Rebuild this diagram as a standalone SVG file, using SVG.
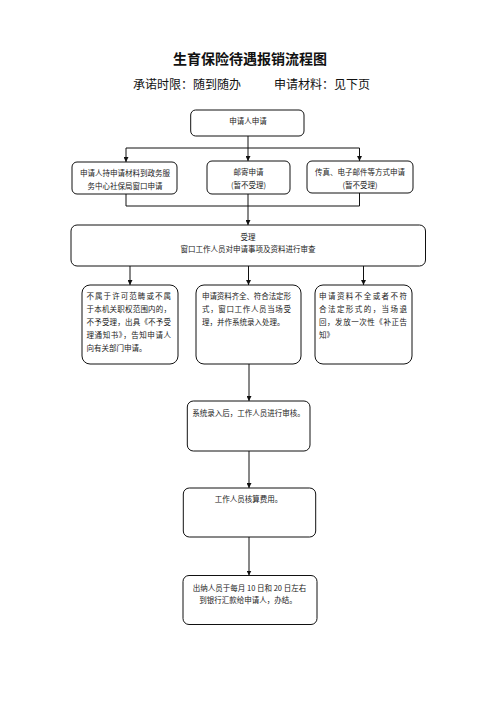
<svg xmlns="http://www.w3.org/2000/svg" width="500" height="707" viewBox="0 0 500 707">
<defs>
<marker id="arr" viewBox="0 0 10 10" refX="10" refY="5" markerWidth="5" markerHeight="5" orient="auto" markerUnits="userSpaceOnUse">
<path d="M0,0 L10,5 L0,10 Z" fill="#111"/>
</marker>
<style>
.box{fill:#fff;stroke:#111;stroke-width:1}
.t{font-family:"Noto Sans CJK SC","Liberation Sans",sans-serif;font-size:7.5px;fill:#222}
.c{text-anchor:middle}
.ln{fill:none;stroke:#111;stroke-width:1}
.title{font-family:"Noto Sans CJK SC","Liberation Serif",serif;font-size:14px;font-weight:bold;fill:#111;text-anchor:middle}
.sub{font-family:"Noto Sans CJK SC","Liberation Serif",serif;font-size:12px;fill:#111}
</style>
</defs>
<rect width="500" height="707" fill="#fff"/>
<text class="title" x="250" y="64">生育保险待遇报销流程图</text>
<text class="sub" x="133" y="89">承诺时限：随到随办</text>
<text class="sub" x="274" y="89">申请材料：见下页</text>

<g id="connectors">
<path class="ln" d="M248,136 V161" marker-end="url(#arr)"/>
<path class="ln" d="M126,148 H359.5"/>
<path class="ln" d="M126,148 V162" marker-end="url(#arr)"/>
<path class="ln" d="M359.5,148 V161" marker-end="url(#arr)"/>
<path class="ln" d="M126,194 V206 H359.5 V193"/>
<path class="ln" d="M248,194 V225" marker-end="url(#arr)"/>
<path class="ln" d="M130,266 V285" marker-end="url(#arr)"/>
<path class="ln" d="M248.5,266 V285" marker-end="url(#arr)"/>
<path class="ln" d="M363.5,266 V285" marker-end="url(#arr)"/>
<path class="ln" d="M249,364 V401" marker-end="url(#arr)"/>
<path class="ln" d="M249,451 V488" marker-end="url(#arr)"/>
<path class="ln" d="M249,537 V575.5" marker-end="url(#arr)"/>
</g>

<g id="n-apply">
<rect class="box" x="190.7" y="110" width="113.3" height="26" rx="5"/>
<text class="t c" x="248" y="124">申请人申请</text>
</g>
<g id="n-window">
<rect class="box" x="72" y="162" width="105" height="32" rx="5"/>
<text class="t c" x="125" y="175.5">申请人持申请材料到政务服</text>
<text class="t c" x="125" y="188.5">务中心社保局窗口申请</text>
</g>
<g id="n-mail">
<rect class="box" x="207" y="161" width="83" height="33" rx="5"/>
<text class="t c" x="248.5" y="175">邮寄申请</text>
<text class="t c" x="248.5" y="187.5">(暂不受理)</text>
</g>
<g id="n-fax">
<rect class="box" x="307" y="161" width="106" height="32" rx="5"/>
<text class="t c" x="360" y="175">传真、电子邮件等方式申请</text>
<text class="t c" x="360" y="187.5">(暂不受理)</text>
</g>
<g id="n-accept">
<rect class="box" x="71" y="225" width="354.5" height="41" rx="6"/>
<text class="t c" x="248" y="239.5">受理</text>
<text class="t c" x="248" y="252">窗口工作人员对申请事项及资料进行审查</text>
</g>
<g id="n-reject">
<rect class="box" x="82" y="285" width="96" height="79" rx="8"/>
<text class="t" x="86.5" y="299" textLength="84.5" lengthAdjust="spacing">不属于许可范畴或不属</text>
<text class="t" x="86.5" y="312" textLength="84.5" lengthAdjust="spacing">于本机关职权范围内的，</text>
<text class="t" x="86.5" y="325" textLength="84.5" lengthAdjust="spacing">不予受理，出具《不予受</text>
<text class="t" x="86.5" y="338" textLength="84.5" lengthAdjust="spacing">理通知书》，告知申请人</text>
<text class="t" x="86.5" y="350.5">向有关部门申请。</text>
</g>
<g id="n-complete">
<rect class="box" x="196" y="285" width="105" height="79" rx="8"/>
<text class="t" x="202" y="299" textLength="89" lengthAdjust="spacing">申请资料齐全、符合法定形</text>
<text class="t" x="202" y="312" textLength="89" lengthAdjust="spacing">式，窗口工作人员当场受</text>
<text class="t" x="202" y="325">理，并作系统录入处理。</text>
</g>
<g id="n-return">
<rect class="box" x="315" y="285" width="97" height="79" rx="8"/>
<text class="t" x="319" y="299" textLength="88" lengthAdjust="spacing">申请资料不全或者不符</text>
<text class="t" x="319" y="312" textLength="88" lengthAdjust="spacing">合法定形式的，当场退</text>
<text class="t" x="319" y="325" textLength="88" lengthAdjust="spacing">回，发放一次性《补正告</text>
<text class="t" x="319" y="338">知》</text>
</g>
<g id="n-review">
<rect class="box" x="187.3" y="401" width="122.7" height="50" rx="6"/>
<text class="t c" x="248.5" y="415.5">系统录入后，工作人员进行审核。</text>
</g>
<g id="n-calc">
<rect class="box" x="183.3" y="488" width="132.4" height="49" rx="6"/>
<text class="t c" x="248.5" y="502">工作人员核算费用。</text>
</g>
<g id="n-pay">
<rect class="box" x="183" y="575.5" width="134" height="49" rx="6"/>
<text class="t c" x="249.5" y="590.5">出纳人员于每月 10 日和 20 日左右</text>
<text class="t c" x="248" y="603">到银行汇款给申请人，办结。</text>
</g>
</svg>
